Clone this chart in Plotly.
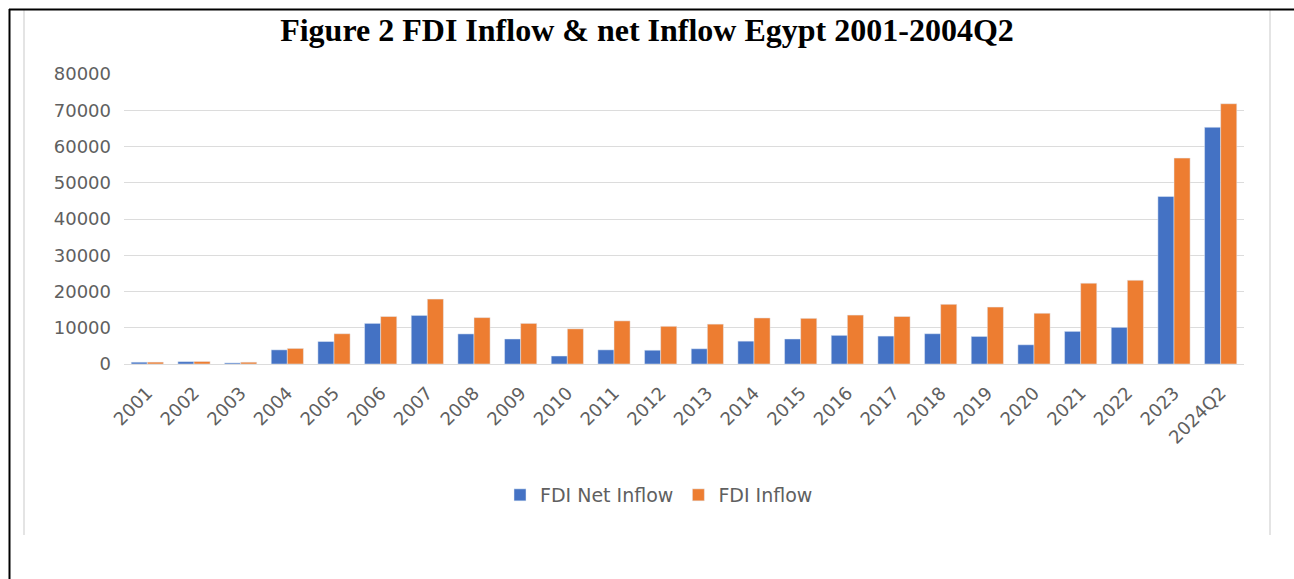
import plotly.graph_objects as go

categories = ["2001", "2002", "2003", "2004", "2005", "2006", "2007", "2008", "2009", "2010",
              "2011", "2012", "2013", "2014", "2015", "2016", "2017", "2018", "2019", "2020",
              "2021", "2022", "2023", "2024Q2"]
net_inflow = [500, 650, 300, 3900, 6200, 11200, 13400, 8300, 6900, 2200,
              3900, 3800, 4200, 6300, 6900, 7900, 7700, 8350, 7600, 5300,
              9000, 10100, 46200, 65300]
inflow = [520, 700, 500, 4300, 8350, 13100, 17900, 12800, 11200, 9700,
          11900, 10400, 11000, 12700, 12600, 13500, 13100, 16450, 15700, 14000,
          22300, 23100, 56800, 71800]
y_ticks = [0, 10000, 20000, 30000, 40000, 50000, 60000, 70000, 80000]
y_tick_labels = [str(v) for v in y_ticks]

W, H = 1294, 579
L, R, T, B = 124, 1244, 74, 364  # plot area in pixels


def px(x):
    return (x - L) / (R - L)


def py(y):
    return (B - y) / (B - T)


fig = go.Figure()
fig.add_trace(go.Bar(name="FDI Net Inflow", x=categories, y=net_inflow, marker_color="#4472C4"))
fig.add_trace(go.Bar(name="FDI Inflow", x=categories, y=inflow, marker_color="#ED7D31"))

font_family = "DejaVu Sans"
shapes = [
    dict(type="line", xref="paper", yref="paper", x0=px(24), x1=px(24), y0=py(10), y1=py(535),
         line=dict(color="#e4e4e4", width=2)),
    dict(type="line", xref="paper", yref="paper", x0=px(1270), x1=px(1270), y0=py(10), y1=py(535),
         line=dict(color="#e4e4e4", width=2)),
    dict(type="line", xref="paper", yref="paper", x0=px(9), x1=px(1294), y0=py(9.5), y1=py(9.5),
         line=dict(color="black", width=2)),
    dict(type="line", xref="paper", yref="paper", x0=px(9.5), x1=px(9.5), y0=py(9), y1=py(579),
         line=dict(color="black", width=2)),
]

fig.update_layout(
    width=W, height=H,
    margin=dict(l=L, r=W - R, t=T, b=H - B, pad=0),
    paper_bgcolor="white", plot_bgcolor="white",
    barmode="group", bargap=0.31, bargroupgap=0,
    title=dict(text="<b>Figure 2 FDI Inflow &amp; net Inflow Egypt 2001-2004Q2</b>",
               font=dict(family="Liberation Serif", size=32, color="black"),
               x=px(647), xref="paper", xanchor="center", y=1 - 30 / H, yanchor="middle"),
    font=dict(family=font_family, size=17, color="#606060"),
    xaxis=dict(tickangle=-45, tickfont=dict(size=18, color="#606060"), showgrid=False,
               showline=False, ticks="", ticklabelstandoff=14, automargin=False),
    yaxis=dict(range=[0, 80000], tickvals=y_ticks, ticktext=y_tick_labels,
               tickfont=dict(size=18, color="#606060"),
               showgrid=True, gridcolor="#dcdcdc", gridwidth=1, zeroline=True,
               zerolinecolor="#dcdcdc", zerolinewidth=1, showline=False, ticks="",
               ticklabelstandoff=12, automargin=False),
    legend=dict(orientation="h", x=px(659), xanchor="center", y=py(495), yanchor="middle",
                font=dict(size=19, color="#606060"), itemwidth=30, bgcolor="rgba(0,0,0,0)"),
    shapes=shapes,
)

fig.write_html("out.html")
